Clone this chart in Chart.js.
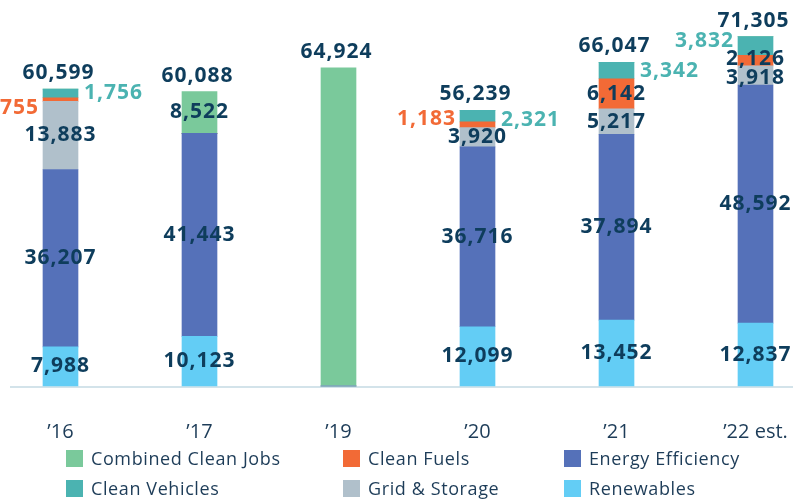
<!DOCTYPE html>
<html>
<head>
<meta charset="utf-8">
<script src="https://cdn.jsdelivr.net/npm/chart.js@4/dist/chart.umd.min.js"></script>
<style>
  html, body { margin: 0; padding: 0; background: #fff; }
  #wrap { position: relative; width: 793px; height: 499px; }
  #legend { position: absolute; left: 0; top: 0; width: 793px; height: 499px; pointer-events: none; }
  .item { position: absolute; height: 24px; line-height: 24px; display: flex; align-items: center; font-family: "Open Sans", sans-serif; font-size: 18px; letter-spacing: 0.6px; color: #1d3c58; white-space: nowrap; }
  .box { width: 17px; height: 17px; margin-right: 8px; }
</style>
</head>
<body>
<div id="wrap">
  <canvas id="myChart" width="793" height="499"></canvas>
  <div id="legend"></div>
</div>
<script>
// categories and values
var years = ["\u201916", "\u201917", "\u201919", "\u201920", "\u201921", "\u201922 est."];
var renewables = [7988, 10123, 0, 12099, 13452, 12837];
var energyEfficiency = [36207, 41443, 0, 36716, 37894, 48592];
var gridStorage = [13883, 0, 0, 3920, 5217, 3918];
var cleanFuels = [755, 0, 0, 1183, 6142, 2126];
var cleanVehicles = [1756, 0, 0, 2321, 3342, 3832];
var combinedCleanJobs = [0, 8522, 64924, 0, 0, 0];
var totals = [60599, 60088, 64924, 56239, 66047, 71305];

var navy = "#0e3d5c";

// where each value label goes: c = centre of segment, l = left of bar, r = right of bar, "" = none
var labelPlace = [
  ["c", "c", "", "c", "c", "c"],
  ["c", "c", "", "c", "c", "c"],
  ["c", "", "", "c", "c", "c"],
  ["l", "", "", "l", "c", "c"],
  ["r", "", "", "r", "r", "l"],
  ["", "c", "", "", "", ""]
];
// small vertical tweaks for labels (dataset index, category index)
var labelNudge = { "3,0": 8, "3,3": -6, "4,3": 4, "4,5": -5, "3,5": -2, "2,5": 3 };

var series = [
  { label: "Renewables", data: renewables, color: "#63cdf5" },
  { label: "Energy Efficiency", data: energyEfficiency, color: "#5571b9" },
  { label: "Grid & Storage", data: gridStorage, color: "#b0c0cb" },
  { label: "Clean Fuels", data: cleanFuels, color: "#f26a36" },
  { label: "Clean Vehicles", data: cleanVehicles, color: "#4bb3b1" },
  { label: "Combined Clean Jobs", data: combinedCleanJobs, color: "#7ac99b" }
];

var labelFont = "bold 21px 'Open Sans', sans-serif";

function fmt(v) {
  return v.toLocaleString("en-US");
}

// draws the baseline, segment values and totals
var valueLabels = {
  id: "valueLabels",
  beforeDatasetsDraw: function (chart) {
    var ctx = chart.ctx;
    var y0 = chart.scales.y.getPixelForValue(0);
    ctx.save();
    ctx.strokeStyle = "#d3e3ea";
    ctx.lineWidth = 2;
    ctx.beginPath();
    ctx.moveTo(10, y0 + 1);
    ctx.lineTo(793, y0 + 1);
    ctx.stroke();
    ctx.restore();
  },
  afterDatasetsDraw: function (chart) {
    var ctx = chart.ctx;
    ctx.save();
    ctx.font = labelFont;
    ctx.letterSpacing = "1px";
    ctx.textBaseline = "middle";
    chart.data.datasets.forEach(function (ds, i) {
      var meta = chart.getDatasetMeta(i);
      meta.data.forEach(function (bar, j) {
        var v = ds.data[j];
        var place = labelPlace[i][j];
        if (!v || !place) return;
        var half = bar.width / 2;
        var y = (bar.y + bar.base) / 2 + (labelNudge[i + "," + j] || 0);
        if (place === "c") {
          ctx.fillStyle = navy;
          ctx.textAlign = "center";
          ctx.fillText(fmt(v), bar.x, y);
        } else if (place === "l") {
          ctx.fillStyle = ds.backgroundColor;
          ctx.textAlign = "right";
          ctx.fillText(fmt(v), bar.x - half - 4, y);
        } else {
          ctx.fillStyle = ds.backgroundColor;
          ctx.textAlign = "left";
          ctx.fillText(fmt(v), bar.x + half + 6, y);
        }
      });
    });
    // totals above each bar
    var yScale = chart.scales.y;
    var xScale = chart.scales.x;
    totals.forEach(function (t, j) {
      var top = 0;
      chart.data.datasets.forEach(function (ds) { top += ds.data[j]; });
      ctx.fillStyle = navy;
      ctx.textAlign = "center";
      ctx.fillText(fmt(t), xScale.getPixelForValue(j) - 2, yScale.getPixelForValue(top) - 16);
    });
    ctx.restore();
  }
};

var ctx = document.getElementById("myChart").getContext("2d");
var myChart = new Chart(ctx, {
  type: "bar",
  data: {
    labels: years,
    datasets: series.map(function (s) {
      return {
        label: s.label,
        data: s.data,
        backgroundColor: s.color,
        borderWidth: 0,
        barThickness: 35,
        clip: false
      };
    })
  },
  options: {
    responsive: false,
    animation: false,
    layout: {
      padding: { left: 60.5, right: 37.5, top: 20, bottom: 57 }
    },
    plugins: {
      legend: { display: false },
      tooltip: { enabled: false }
    },
    scales: {
      x: {
        stacked: true,
        offset: false,
        grid: { display: false, drawTicks: false, tickLength: 0 },
        border: { display: false },
        afterFit: function (scale) {
          // keep the bars where the reference has them
          scale.height = 56;
          scale.paddingLeft = 0;
          scale.paddingRight = 0;
        },
        ticks: {
          color: "#1d3c58",
          padding: 34,
          maxRotation: 0,
          font: { family: "'Open Sans', sans-serif", size: 20 }
        }
      },
      y: {
        stacked: true,
        display: false,
        min: 0,
        max: 74700
      }
    }
  },
  plugins: [valueLabels]
});

// legend laid out in three columns like the reference
var legendOrder = ["Combined Clean Jobs", "Clean Fuels", "Energy Efficiency", "Clean Vehicles", "Grid & Storage", "Renewables"];
var colX = [66, 343, 564];
var rowY = [446, 476];
var legendEl = document.getElementById("legend");
legendOrder.forEach(function (name, k) {
  var s = series.filter(function (d) { return d.label === name; })[0];
  var item = document.createElement("div");
  item.className = "item";
  item.style.left = colX[k % 3] + "px";
  item.style.top = rowY[Math.floor(k / 3)] + "px";
  var box = document.createElement("span");
  box.className = "box";
  box.style.background = s.color;
  var txt = document.createElement("span");
  txt.textContent = name;
  item.appendChild(box);
  item.appendChild(txt);
  legendEl.appendChild(item);
});
</script>
</body>
</html>
